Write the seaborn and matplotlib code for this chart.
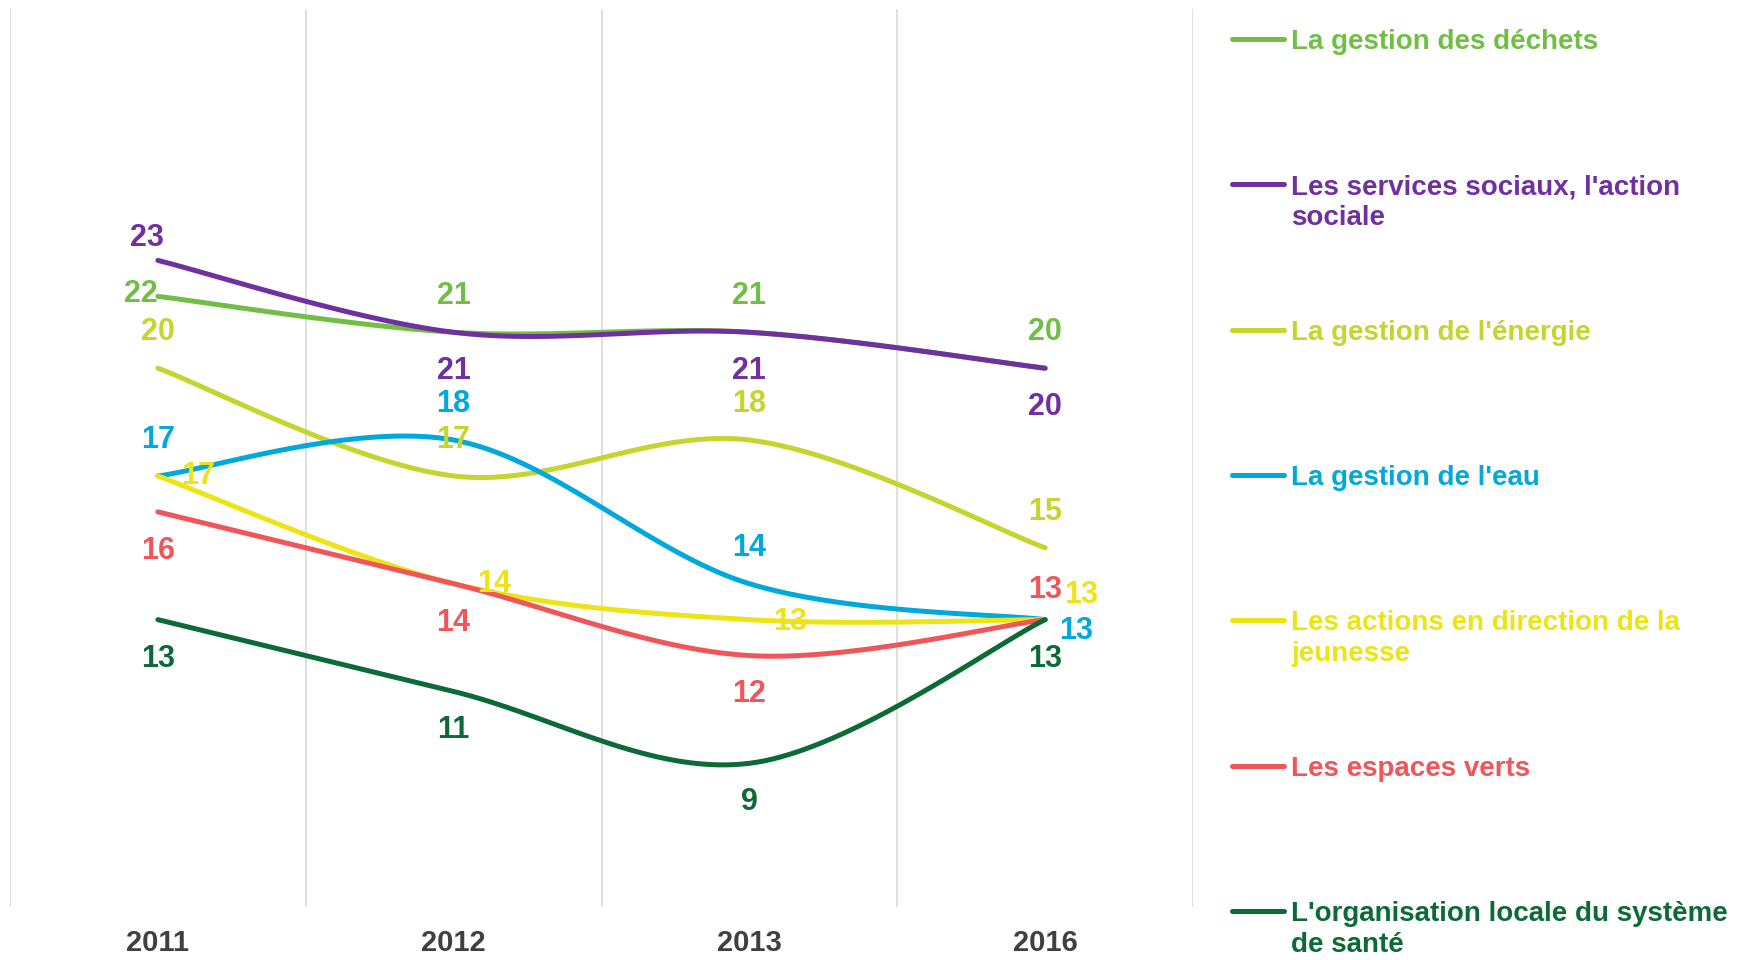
import matplotlib
matplotlib.use("Agg")
import matplotlib.pyplot as plt
from matplotlib.lines import Line2D
import seaborn as sns
import pandas as pd
import numpy as np

# data
years = ["2011", "2012", "2013", "2016"]
series_names = [
    "La gestion des déchets",
    "Les services sociaux, l'action sociale",
    "La gestion de l'énergie",
    "La gestion de l'eau",
    "Les actions en direction de la jeunesse",
    "Les espaces verts",
    "L'organisation locale du système de santé",
]
dechets = [22, 21, 21, 20]
social = [23, 21, 21, 20]
energie = [20, 17, 18, 15]
eau = [17, 18, 14, 13]
jeunesse = [17, 14, 13, 13]
espaces_verts = [16, 14, 12, 13]
sante = [13, 11, 9, 13]
all_values = [dechets, social, energie, eau, jeunesse, espaces_verts, sante]

colors = ["#70BF44", "#7030A0", "#C3D52E", "#00A8DC", "#EDE416", "#F0555A", "#0B6A36"]
legend_lines = [
    ["La gestion des déchets"],
    ["Les services sociaux, l'action", "sociale"],
    ["La gestion de l'énergie"],
    ["La gestion de l'eau"],
    ["Les actions en direction de la", "jeunesse"],
    ["Les espaces verts"],
    ["L'organisation locale du système", "de santé"],
]

# label placement (offset points)
A, B, R = (0, 26), (0, -28), (29, 0)
label_offsets = [
    [(-12, 2), A, A, A],
    [(-8, 16), B, B, B],
    [A, A, A, A],
    [A, A, A, (22, -8)],
    [R, R, (29, -2), (26, 18)],
    [B, B, B, (0, 21)],
    [B, B, B, B],
]


def smooth(values, steps=40):
    # excel-like smoothed line (catmull-rom bezier)
    pts = np.column_stack([np.arange(len(values)), values]).astype(float)
    padded = np.vstack([pts[0], pts, pts[-1]])
    t = np.linspace(0, 1, steps)[:, None]
    out = []
    for i in range(len(pts) - 1):
        p0, p3 = padded[i + 1], padded[i + 2]
        c1 = p0 + (padded[i + 2] - padded[i]) / 6
        c2 = p3 - (padded[i + 3] - padded[i + 1]) / 6
        seg = (1 - t) ** 3 * p0 + 3 * (1 - t) ** 2 * t * c1 + 3 * (1 - t) * t ** 2 * c2 + t ** 3 * p3
        out.append(seg if i == 0 else seg[1:])
    return np.vstack(out)


frames = []
for name, vals in zip(series_names, all_values):
    curve = smooth(vals)
    frames.append(pd.DataFrame({"series": name, "x": curve[:, 0], "y": curve[:, 1]}))
df = pd.concat(frames, ignore_index=True)

sns.set_theme(style="white")
plt.rcParams["font.family"] = ["Liberation Sans", "DejaVu Sans"]

W, H = 1748, 960
fig = plt.figure(figsize=(W / 100, H / 100), dpi=100)
ax = fig.add_axes([10 / W, 1 - 907 / H, (1193 - 10) / W, (907 - 9) / H])

sns.lineplot(
    data=df, x="x", y="y", hue="series", hue_order=series_names,
    palette=dict(zip(series_names, colors)), sort=False, estimator=None,
    linewidth=3.6, solid_capstyle="round", legend=False, ax=ax,
)

for vals, col, offs in zip(all_values, colors, label_offsets):
    for i, v in enumerate(vals):
        ax.annotate(str(v), (i, v), xytext=offs[i], textcoords="offset points",
                    ha="center", va="center", color=col, fontsize=22, fontweight="bold")

ax.set_xlim(-0.5, 3.5)
ax.set_ylim(5, 30)
ax.set_xticks(range(len(years)))
ax.set_xticklabels(years, fontsize=21, fontweight="bold", color="#404040")
ax.set_xticks(np.arange(-0.5, len(years), 1), minor=True)
ax.tick_params(axis="x", which="both", length=0, pad=16)
ax.set_yticks([])
ax.set_xlabel("")
ax.set_ylabel("")
ax.grid(False)
ax.grid(which="minor", axis="x", color="#D9D9D9", linewidth=1.2)
sns.despine(ax=ax, left=True, bottom=True)

# legend drawn by hand so the handle sits on the first text line
for k, (lines, col) in enumerate(zip(legend_lines, colors)):
    yc = 39 + k * 145.3
    fig.add_artist(Line2D([1232 / W, 1284 / W], [1 - yc / H, 1 - yc / H], color=col,
                          linewidth=3.6, solid_capstyle="round", transform=fig.transFigure))
    for j, txt in enumerate(lines):
        fig.text(1291 / W, 1 - (yc + 10 + 31 * j) / H, txt, color=col, fontsize=20,
                 fontweight="bold", va="baseline", ha="left")

fig.savefig("out.png", dpi=100)
